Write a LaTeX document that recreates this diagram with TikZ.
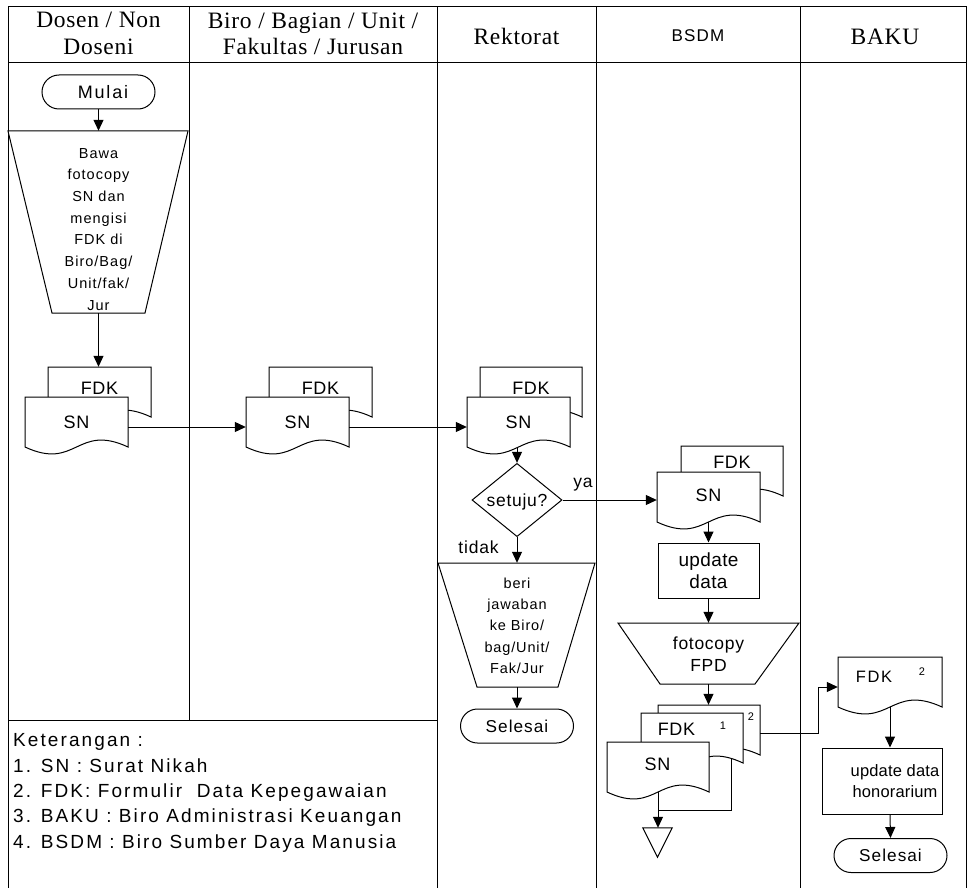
\documentclass[tikz,border=0pt]{standalone}
\usepackage{fontspec}
\setmainfont{Liberation Serif}
\setsansfont{Liberation Sans}
\usetikzlibrary{arrows.meta,shapes.geometric}

% font helpers: size, baselineskip, letter spacing
\newcommand\sansfs[3]{\fontsize{#1}{#2}\sffamily\addfontfeatures{LetterSpace=#3}}
\newcommand\seriffs[3]{\fontsize{#1}{#2}\rmfamily\addfontfeatures{LetterSpace=#3}}

% document symbol: name, left x, top y, width
\newcommand\docshape[4]{%
  \path[docline] (#2,#3) -- (#2+#4,#3) -- (#2+#4,#3+50)
    .. controls (#2+#4/2,#3+26) and (#2+#4/2,#3+74) .. (#2,#3+50) -- cycle;
  \node[docbox,minimum width=#4pt] (#1) at (#2+#4/2,#3+25) {};
}

\begin{document}
\begin{tikzpicture}[x=1pt,y=-1pt,
  ln/.style={line width=1pt},
  arr/.style={line width=1pt,-{Triangle[length=11pt,width=10pt]}},
  docline/.style={line width=1pt,draw=black,fill=white},
  docbox/.style={inner sep=0pt,minimum height=50pt},
  box/.style={inner sep=0pt},
  hdr/.style={inner sep=0pt,align=center,font=\seriffs{23.5}{26.7}{3}},
  dtext/.style={inner sep=0pt,font=\sansfs{18}{20}{3}},
  lbl/.style={inner sep=0pt,font=\sansfs{17.5}{20}{5}},
  sup/.style={inner sep=0pt,font=\sansfs{11}{12}{0}},
  leg/.style={inner sep=0pt,font=\sansfs{19}{25}{11}},
  term/.style={draw,line width=1pt,fill=white,rounded corners=17pt,
    minimum width=113pt,minimum height=34pt,inner sep=0pt,font=\sansfs{17.2}{20}{6}},
  proc/.style={draw,line width=1pt,fill=white,inner sep=0pt},
]
\useasboundingbox (0,0) rectangle (969,888);

% swimlane frame
\draw[ln] (8,888) -- (8,7) -- (966,7) -- (966,888);
\draw[ln] (8,63) -- (966,63);
\draw[ln] (189,7) -- (189,720);
\draw[ln] (437,7) -- (437,888);
\draw[ln] (596,7) -- (596,888);
\draw[ln] (800,7) -- (800,888);
\draw[ln] (8,720) -- (437,720);

% lane titles
\node[hdr,anchor=north] (h1) at (98.5,12.3) {Dosen / Non\\Doseni};
\node[hdr,anchor=north] (h2) at (313,12.3) {Biro / Bagian / Unit /\\Fakultas / Jurusan};
\node[hdr,anchor=base] (h3) at (516.5,44.7) {Rektorat};
\node[inner sep=0pt,anchor=base,font=\sansfs{17}{18}{7}] (h4) at (698,41.2) {BSDM};
\node[hdr,anchor=base] (h5) at (885,44.7) {BAKU};

% ---- Dosen / Non Doseni
\node[term,font=\sansfs{18}{20}{10}] (mulai) at (98.5,92) {\hspace*{9pt}Mulai};
\draw[ln,fill=white] (8,131) -- (188,131) -- (145,313) -- (52,313) -- cycle;
\node[box,minimum width=180pt,minimum height=182pt] (op1) at (98.5,222) {};
\node[anchor=north,inner sep=0pt,align=center,font=\sansfs{14.5}{21.7}{7}] (op1t) at (98.5,148)
  {Bawa\\fotocopy\\SN dan\\mengisi\\FDK di\\Biro/Bag/\\Unit/fak/\\Jur};
\draw[arr] (mulai.south) -- (op1.north);

\docshape{l1b}{48}{367}{103}
\node[dtext,anchor=base] (l1bt) at (99.5,394) {FDK};
\docshape{l1f}{25}{397}{103}
\node[dtext,anchor=base] (l1ft) at (76.5,428.5) {SN};
\draw[arr] (op1.south) -- (op1.south |- l1b.north);

% ---- Biro / Bagian / Unit
\docshape{l2b}{269}{367}{103}
\node[dtext,anchor=base] (l2bt) at (320.5,394) {FDK};
\docshape{l2f}{246}{397}{103}
\node[dtext,anchor=base] (l2ft) at (297.5,428.5) {SN};
\draw[arr] ([yshift=-5pt]l1f.east) -- ([yshift=-5pt]l2f.west);

% ---- Rektorat
\docshape{rb}{480}{367}{102}
\node[dtext,anchor=base] (rbt) at (531,394) {FDK};
\docshape{rf}{467}{397}{103}
\node[dtext,anchor=base] (rft) at (518.5,428.5) {SN};
\draw[arr] ([yshift=-5pt]l2f.east) -- ([yshift=-5pt]rf.west);

\node[draw,diamond,line width=1pt,fill=white,minimum width=90pt,minimum height=66pt,
  inner sep=0pt,text depth=0pt,font=\sansfs{17.5}{20}{4}] (dia) at (517,500) {setuju?};
\draw[arr] (dia.north |- rf.south) -- (dia.north);
\node[lbl,anchor=base] (ya) at (583,487) {ya};
\node[lbl,anchor=base] (tidak) at (478.5,553.3) {tidak};

\draw[ln,fill=white] (438,563) -- (595,563) -- (558,687) -- (477,687) -- cycle;
\node[box,minimum width=157pt,minimum height=124pt] (op2) at (517,625) {};
\node[anchor=north,inner sep=0pt,align=center,font=\sansfs{14.5}{21.1}{6}] (op2t) at (517,578)
  {beri\\jawaban\\ke Biro/\\bag/Unit/\\Fak/Jur};
\draw[arr] (dia.south) -- (dia.south |- op2.north);
\node[term] (sel1) at (517,726) {Selesai};
\draw[arr] (op2.south) -- (sel1.north);

% ---- BSDM
\docshape{bb}{681}{446}{102}
\node[dtext,anchor=base] (bbt) at (732,468) {FDK};
\docshape{bf}{657}{472}{103}
\node[dtext,anchor=base] (bft) at (708.5,501.7) {SN};
\draw[arr] (dia.east) -- (dia.east -| bf.west);

\node[proc,minimum width=101pt,minimum height=55pt,align=center,font=\sansfs{19}{21.6}{2}]
  (upd1) at (708.5,570.5) {update\\data};
\draw[arr] (bf.south) -- (upd1.north);

\draw[ln,fill=white] (618,623) -- (799,623) -- (755,684) -- (660,684) -- cycle;
\node[box,minimum width=181pt,minimum height=61pt] (op3) at (708.5,653.5) {};
\node[anchor=north,inner sep=0pt,align=center,font=\sansfs{17.5}{21.7}{4}] (op3t) at (708.5,637)
  {fotocopy\\FPD};
\draw[arr] (upd1.south) -- (op3.north);

\docshape{s3}{658}{705}{102}
\node[sup] (s3n) at (751,717) {2};
\docshape{s2}{641}{713}{102}
\node[dtext,anchor=base] (s2t) at (676.5,735.7) {FDK};
\node[sup] (s2n) at (723,726) {1};
\docshape{s1}{607}{742}{102}
\node[dtext,anchor=base] (s1t) at (657.5,770) {SN};
\draw[arr] (op3.south) -- (op3.south |- s3.north);

\node[box,minimum width=29pt,minimum height=29pt] (store) at (657.5,842.5) {};
\draw[ln] (store.north west) -- (store.north east) -- (store.south) -- cycle;
\draw[arr] (s1.south) -- (s1.south |- store.north);
\draw[ln] ([xshift=-12pt,yshift=5pt]s2.south east) -- ++(0,52) -| (s1.south);

% ---- BAKU
\docshape{kd}{838}{657}{104}
\node[dtext,anchor=base,font=\sansfs{16.5}{20}{10}] (kdt) at (874,682.3) {FDK};
\node[sup] (kdn) at (922,672) {2};
\draw[arr] ([yshift=-3pt]s3.east) -- ++(58,0) |- ([yshift=-5pt]kd.west);

\node[proc,minimum width=120pt,minimum height=66pt] (upd2) at (882,781) {};
\node[anchor=north,inner sep=0pt,align=center,font=\sansfs{16.5}{20.6}{1}] (upd2t) at (895,764.7)
  {update data\\honorarium};
\draw[arr] (kd.south) -- (kd.south |- upd2.north);
\node[term] (sel2) at (890.5,855.5) {Selesai};
\draw[arr] (kd.south |- upd2.south) -- (sel2.north);

% ---- legend
\node[leg,anchor=base west] (k0) at (13,746.7) {Keterangan :};
\node[leg,anchor=base west] (k1) at (13,772) {1. SN : Surat Nikah};
\node[leg,anchor=base west] (k2) at (13,797) {2. FDK: Formulir\ \ Data Kepegawaian};
\node[leg,anchor=base west] (k3) at (13,822.7) {3. BAKU : Biro Administrasi Keuangan};
\node[leg,anchor=base west] (k4) at (13,848) {4. BSDM : Biro Sumber Daya Manusia};
\end{tikzpicture}
\end{document}
